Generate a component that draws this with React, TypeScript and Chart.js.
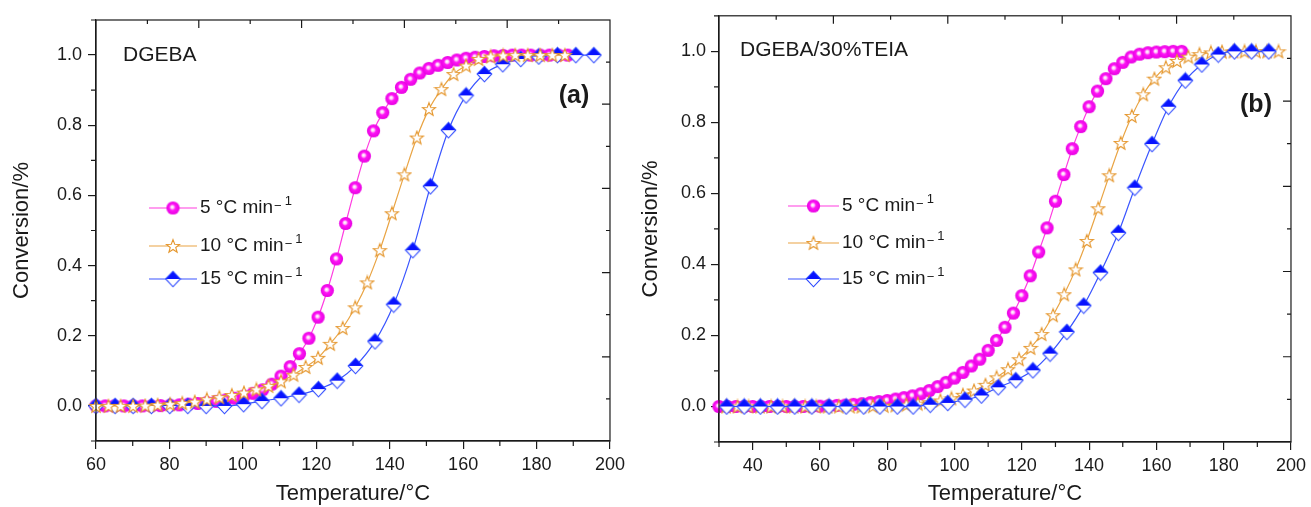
import React, { useEffect, useRef } from "react";
import { Chart, registerables } from "chart.js";
Chart.register(...registerables);

const FONT = "'Liberation Sans', Arial, Helvetica, sans-serif";
const INK = "#1a1a1a";

// ---------- Panel (a): DGEBA ----------
const tempA5 = [60.0, 62.5, 65.0, 67.6, 70.1, 72.6, 75.1, 77.6, 80.2, 82.7, 85.2, 87.7, 90.2, 92.8, 95.3, 97.8, 100.3, 102.8, 105.4, 107.9, 110.4, 112.9, 115.4, 118.0, 120.5, 123.0, 125.5, 128.0, 130.6, 133.1, 135.6, 138.1, 140.6, 143.2, 145.7, 148.2, 150.7, 153.2, 155.8, 158.3, 160.8, 163.3, 165.8, 168.4, 170.9, 173.4, 175.9, 178.4, 181.0, 183.5, 186.0, 188.5];
const convA5 = [0, 0, 0, 0, 0, 0, 0, 0.001, 0.002, 0.003, 0.005, 0.007, 0.010, 0.013, 0.017, 0.022, 0.028, 0.036, 0.046, 0.062, 0.085, 0.112, 0.149, 0.193, 0.253, 0.329, 0.419, 0.520, 0.622, 0.712, 0.784, 0.836, 0.876, 0.908, 0.931, 0.949, 0.962, 0.971, 0.979, 0.986, 0.991, 0.994, 0.996, 0.998, 0.999, 1.0, 1.0, 1.0, 1.0, 1.0, 1.0, 1.0];

const tempA10 = [60.0, 63.4, 66.7, 70.1, 73.4, 76.8, 80.2, 83.5, 86.9, 90.2, 93.6, 97.0, 100.3, 103.7, 107.0, 110.4, 113.8, 117.1, 120.5, 123.8, 127.2, 130.6, 133.9, 137.3, 140.6, 144.0, 147.4, 150.7, 154.1, 157.4, 160.8, 164.2, 167.5, 170.9, 174.2, 177.6, 181.0, 184.3, 187.7];
const convA10 = [0, 0, 0, 0, 0.001, 0.003, 0.005, 0.008, 0.012, 0.019, 0.025, 0.031, 0.038, 0.047, 0.057, 0.070, 0.089, 0.111, 0.137, 0.177, 0.222, 0.281, 0.352, 0.444, 0.549, 0.660, 0.765, 0.846, 0.903, 0.946, 0.970, 0.989, 0.996, 0.999, 1.0, 1.0, 1.0, 1.0, 1.0];

const tempA15 = [60.0, 65.2, 70.1, 75.1, 80.1, 85.0, 90.0, 95.0, 100.2, 105.2, 110.4, 115.3, 120.6, 125.7, 130.7, 136.0, 141.1, 146.3, 151.1, 156.0, 160.8, 165.8, 170.8, 175.7, 180.6, 185.7, 190.7, 195.6];
const convA15 = [0, 0, 0, 0, 0, 0, 0, 0, 0.005, 0.014, 0.022, 0.032, 0.048, 0.072, 0.114, 0.184, 0.289, 0.444, 0.626, 0.786, 0.885, 0.946, 0.974, 0.989, 0.996, 1.0, 1.0, 1.0];

// ---------- Panel (b): DGEBA/30%TEIA ----------
const tempB5 = [30, 32.5, 35, 37.5, 40, 42.5, 45, 47.5, 50, 52.5, 55, 57.5, 60, 62.5, 65, 67.5, 70, 72.5, 75, 77.5, 80, 82.5, 85, 87.5, 90, 92.5, 95, 97.5, 100, 102.5, 105, 107.5, 110, 112.5, 115, 117.5, 120, 122.5, 125, 127.5, 130, 132.5, 135, 137.5, 140, 142.5, 145, 147.5, 150, 152.5, 155, 157.5, 160, 162.5, 165, 167.5];
const convB5 = [0, 0, 0, 0, 0, 0, 0, 0, 0, 0, 0, 0, 0.001, 0.002, 0.003, 0.004, 0.006, 0.008, 0.011, 0.014, 0.017, 0.021, 0.025, 0.030, 0.036, 0.045, 0.056, 0.068, 0.080, 0.096, 0.114, 0.133, 0.158, 0.186, 0.223, 0.263, 0.312, 0.368, 0.435, 0.503, 0.578, 0.653, 0.726, 0.788, 0.844, 0.888, 0.923, 0.951, 0.969, 0.984, 0.992, 0.996, 0.998, 0.999, 1.0, 1.0];

const tempB10 = [32.1, 35.5, 38.8, 42.2, 45.5, 48.9, 52.2, 55.6, 58.9, 62.3, 65.6, 69.0, 72.3, 75.7, 79.0, 82.4, 85.7, 89.1, 92.4, 95.8, 99.1, 102.5, 105.8, 109.2, 112.5, 115.9, 119.2, 122.6, 125.9, 129.3, 132.6, 136.0, 139.3, 142.7, 146.0, 149.4, 152.7, 156.1, 159.4, 162.8, 166.1, 169.5, 172.8, 176.2, 179.5, 182.9, 186.2, 189.6, 192.9, 196.3];
const convB10 = [0, 0, 0, 0, 0, 0, 0, 0, 0, 0, 0, 0, 0, 0.001, 0.002, 0.003, 0.005, 0.008, 0.012, 0.017, 0.023, 0.033, 0.045, 0.061, 0.082, 0.105, 0.133, 0.165, 0.204, 0.257, 0.316, 0.386, 0.466, 0.558, 0.651, 0.742, 0.818, 0.879, 0.923, 0.955, 0.973, 0.985, 0.992, 0.997, 0.999, 1.0, 1.0, 1.0, 1.0, 1.0];

const tempB15 = [32.3, 37.5, 42.3, 47.4, 52.5, 57.6, 62.7, 67.8, 73.0, 77.8, 83.0, 87.7, 92.8, 98.0, 103.1, 108.0, 113.0, 118.2, 123.3, 128.4, 133.4, 138.4, 143.4, 148.7, 153.6, 158.7, 163.6, 168.6, 173.5, 178.4, 183.2, 188.3, 193.4];
const convB15 = [0, 0, 0, 0, 0, 0, 0, 0, 0, 0, 0, 0, 0.005, 0.010, 0.019, 0.031, 0.054, 0.074, 0.102, 0.149, 0.210, 0.284, 0.377, 0.489, 0.616, 0.739, 0.844, 0.918, 0.963, 0.991, 1.0, 1.0, 1.0];

// ---------- Axes ----------
const xTicksA = [60, 80, 100, 120, 140, 160, 180, 200];
const xMinorA = [70, 90, 110, 130, 150, 170, 190];
const xTicksB = [40, 60, 80, 100, 120, 140, 160, 180, 200];
const xMinorB = [30, 50, 70, 90, 110, 130, 150, 170, 190];
const yTicks = [0, 0.2, 0.4, 0.6, 0.8, 1.0];
const yMinor = [-0.1, 0.1, 0.3, 0.5, 0.7, 0.9, 1.1];
const rateLabels = ["5", "10", "15"];
const xTitle = "Temperature/°C";
const yTitle = "Conversion/%";

const LINE_COLORS = ["#ff3ce0", "#e9a444", "#3a55ff"];

function makeSphere() {
  const c = document.createElement("canvas");
  c.width = 15; c.height = 15;
  const g = c.getContext("2d")!;
  const grad = g.createRadialGradient(6.6, 6.4, 0.2, 7.5, 7.5, 7);
  grad.addColorStop(0, "#ffffff");
  grad.addColorStop(0.2, "#ffc8f8");
  grad.addColorStop(0.42, "#ff14f6");
  grad.addColorStop(1, "#e400df");
  g.fillStyle = grad;
  g.beginPath();
  g.arc(7.5, 7.5, 6.6, 0, Math.PI * 2);
  g.fill();
  return c;
}
function makeStar() {
  const c = document.createElement("canvas");
  c.width = 16; c.height = 16;
  const g = c.getContext("2d")!;
  const cx = 8, cy = 8.6, ro = 7, ri = 2.9;
  g.beginPath();
  for (let i = 0; i < 10; i++) {
    const a = -Math.PI / 2 + (i * Math.PI) / 5;
    const r = i % 2 === 0 ? ro : ri;
    const px = cx + r * Math.cos(a), py = cy + r * Math.sin(a);
    if (i === 0) g.moveTo(px, py); else g.lineTo(px, py);
  }
  g.closePath();
  g.fillStyle = "#ffffff";
  g.fill();
  g.strokeStyle = "#e5962c";
  g.lineWidth = 1.1;
  g.stroke();
  return c;
}
function makeDiamond() {
  const c = document.createElement("canvas");
  c.width = 17; c.height = 18;
  const g = c.getContext("2d")!;
  const cx = 8.5, cy = 9, hw = 7.3, hh = 7.8;
  g.beginPath();
  g.moveTo(cx - hw, cy); g.lineTo(cx, cy + hh); g.lineTo(cx + hw, cy); g.closePath();
  g.fillStyle = "#ffffff"; g.fill();
  g.beginPath();
  g.moveTo(cx - hw, cy); g.lineTo(cx, cy - hh); g.lineTo(cx + hw, cy); g.closePath();
  g.fillStyle = "#0812ff"; g.fill();
  g.beginPath();
  g.moveTo(cx - hw, cy); g.lineTo(cx, cy - hh); g.lineTo(cx + hw, cy); g.lineTo(cx, cy + hh); g.closePath();
  g.strokeStyle = "#2c48ff"; g.lineWidth = 1.1; g.stroke();
  return c;
}

type PanelProps = {
  left: number; width: number; top: number; bottom: number; yAxisW: number; padRight: number;
  xMin: number; xMax: number; xTicks: number[]; xMinor: number[];
  yTitlePad: number; yLabelPad: number;
  temps: number[][]; convs: number[][]; orders: number[];
  name: string; nameX: number; nameY: number;
  tag: string; tagX: number; tagY: number;
  legendRows: number[]; legendLine: [number, number]; legendTextX: number;
};

function Panel(p: PanelProps) {
  const ref = useRef<HTMLCanvasElement>(null);
  useEffect(() => {
    const markers = [makeSphere(), makeStar(), makeDiamond()];
    const datasets = p.temps.map((t, si) => ({
      label: rateLabels[si],
      data: t.map((v, i) => ({ x: v, y: p.convs[si][i] })),
      borderColor: LINE_COLORS[si],
      backgroundColor: LINE_COLORS[si],
      borderWidth: 1.2,
      pointStyle: markers[si],
      pointRadius: 7,
      pointHoverRadius: 7,
      showLine: true,
      fill: false,
      cubicInterpolationMode: "monotone",
      order: p.orders[si],
      clip: false,
    }));

    const deco = {
      id: "deco",
      afterDraw(chart: any) {
        const ctx = chart.ctx as CanvasRenderingContext2D;
        const { left, right, top, bottom } = chart.chartArea;
        const xs = chart.scales.x, ys = chart.scales.y;
        ctx.save();
        ctx.strokeStyle = INK;
        ctx.lineWidth = 1.2;
        ctx.strokeRect(left, top, right - left, bottom - top);
        ctx.beginPath();
        for (const v of p.xMinor) {
          const px = xs.getPixelForValue(v);
          ctx.moveTo(px, bottom); ctx.lineTo(px, bottom + 5);
        }
        for (const v of yMinor) {
          const py = ys.getPixelForValue(v);
          ctx.moveTo(left, py); ctx.lineTo(left - 5, py);
        }
        for (let i = 1; i < 10; i++) {
          const px = xs.getPixelForValue(p.xMin + ((p.xMax - p.xMin) * i) / 10);
          const len = i % 2 === 0 ? 8 : 4;
          ctx.moveTo(px, top); ctx.lineTo(px, top + len);
          const py = ys.getPixelForValue(-0.1 + (1.2 * i) / 10);
          ctx.moveTo(right, py); ctx.lineTo(right - len, py);
        }
        ctx.stroke();

        // annotations
        ctx.fillStyle = INK;
        ctx.textBaseline = "middle";
        ctx.textAlign = "left";
        ctx.font = `21px ${FONT}`;
        ctx.fillText(p.name, p.nameX, p.nameY);
        ctx.textAlign = "center";
        ctx.font = `bold 25px ${FONT}`;
        ctx.fillText(p.tag, p.tagX, p.tagY);

        // legend
        p.legendRows.forEach((y, si) => {
          const [l0, l1] = p.legendLine;
          ctx.strokeStyle = LINE_COLORS[si];
          ctx.lineWidth = 1.2;
          ctx.beginPath(); ctx.moveTo(l0, y); ctx.lineTo(l1, y); ctx.stroke();
          const m = markers[si];
          const mid = (l0 + l1) / 2;
          ctx.drawImage(m, mid - m.width / 2, y - m.height / 2);
          ctx.fillStyle = INK;
          ctx.textAlign = "left";
          ctx.textBaseline = "middle";
          ctx.font = `19px ${FONT}`;
          const main = `${rateLabels[si]} °C min`;
          ctx.fillText(main, p.legendTextX, y);
          const w = ctx.measureText(main).width;
          ctx.font = `13px ${FONT}`;
          ctx.fillText("−", p.legendTextX + w + 1, y - 2);
          const mw = ctx.measureText("−").width;
          ctx.fillText("1", p.legendTextX + w + 1 + mw + 3, y - 7);
        });
        ctx.restore();
      },
    };

    const chart = new Chart(ref.current!, {
      type: "line",
      data: { datasets: datasets as any },
      options: {
        animation: false,
        responsive: false,
        maintainAspectRatio: false,
        layout: { padding: { left: 0, top: p.top, right: p.padRight, bottom: 0 } },
        plugins: { legend: { display: false }, tooltip: { enabled: false } },
        scales: {
          x: {
            type: "linear",
            min: p.xMin,
            max: p.xMax,
            afterBuildTicks: (s: any) => { s.ticks = p.xTicks.map((v) => ({ value: v })); },
            afterFit: (s: any) => { s.height = 507 - p.bottom; },
            ticks: {
              font: { family: FONT, size: 18 },
              color: INK,
              padding: 5,
              maxRotation: 0,
              autoSkip: false,
              callback: (v: any) => String(v),
            },
            grid: { display: true, drawOnChartArea: false, drawTicks: true, tickLength: 8, color: INK, lineWidth: 1.2 },
            border: { display: true, color: INK, width: 1.2 },
            title: { display: true, text: xTitle, color: INK, font: { family: FONT, size: 22 }, padding: { top: 0, bottom: 0 } },
          },
          y: {
            type: "linear",
            min: -0.1,
            max: 1.1,
            afterBuildTicks: (s: any) => { s.ticks = yTicks.map((v) => ({ value: v })); },
            afterFit: (s: any) => { s.width = p.yAxisW; },
            ticks: {
              font: { family: FONT, size: 18 },
              color: INK,
              padding: p.yLabelPad,
              autoSkip: false,
              callback: (v: any) => Number(v).toFixed(1),
            },
            grid: { display: true, drawOnChartArea: false, drawTicks: true, tickLength: 8, color: INK, lineWidth: 1.2 },
            border: { display: true, color: INK, width: 1.2 },
            title: { display: true, text: yTitle, color: INK, font: { family: FONT, size: 22 }, padding: { top: p.yTitlePad, bottom: 0 } },
          },
        },
      } as any,
      plugins: [deco],
    });
    return () => chart.destroy();
  }, []);
  return (
    <canvas
      ref={ref}
      width={p.width}
      height={507}
      style={{ position: "absolute", left: p.left, top: 0, width: p.width, height: 507 }}
    />
  );
}

export default function App() {
  return (
    <div style={{ position: "absolute", left: 0, top: 0, width: 1311, height: 507, background: "#ffffff", overflow: "hidden" }}>
      <Panel
        left={0} width={630} top={20} bottom={441} yAxisW={96} padRight={18}
        xMin={60} xMax={200} xTicks={xTicksA} xMinor={xMinorA}
        yTitlePad={9} yLabelPad={6}
        temps={[tempA5, tempA10, tempA15]} convs={[convA5, convA10, convA15]} orders={[3, 1, 2]}
        name="DGEBA" nameX={123} nameY={55}
        tag="(a)" tagX={574} tagY={96}
        legendRows={[208, 246, 279]} legendLine={[149, 197]} legendTextX={200}
      />
      <Panel
        left={630} width={681} top={12} bottom={442} yAxisW={89} padRight={14}
        xMin={30} xMax={200} xTicks={xTicksB} xMinor={xMinorB}
        yTitlePad={8} yLabelPad={5}
        temps={[tempB5, tempB10, tempB15]} convs={[convB5, convB10, convB15]} orders={[3, 2, 1]}
        name="DGEBA/30%TEIA" nameX={110} nameY={50}
        tag="(b)" tagX={626} tagY={105}
        legendRows={[206, 243, 279]} legendLine={[158, 209]} legendTextX={212}
      />
    </div>
  );
}
